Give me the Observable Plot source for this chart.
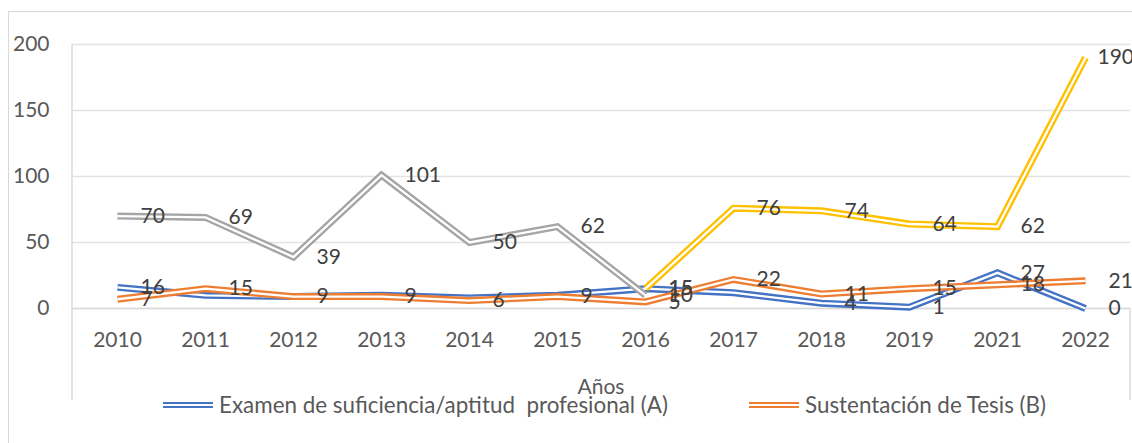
<!DOCTYPE html>
<html>
<head>
<meta charset="utf-8">
<script src="https://cdn.jsdelivr.net/npm/d3@7"></script>
<script src="https://cdn.jsdelivr.net/npm/@observablehq/plot@0.6"></script>
<style>
  html, body { margin: 0; padding: 0; background: #fff; }
  #wrap { position: relative; width: 1132px; height: 443px; overflow: hidden; font-family: Lato, "Open Sans", sans-serif; color: #595959; }
  #wrap svg { position: absolute; left: 0; top: 0; }
  .frame-top { position: absolute; left: 8px; top: 11px; width: 1200px; height: 0; border-top: 1.5px solid #d9d9d9; }
  .frame-left { position: absolute; left: 8px; top: 11px; width: 0; height: 500px; border-left: 1.5px solid #d9d9d9; }
  .axis-title { position: absolute; top: 373px; left: 601px; transform: translateX(-50%); font-size: 21px; white-space: pre; }
  .legend-item { position: absolute; top: 391px; display: flex; align-items: center; font-size: 22.4px; line-height: 28px; white-space: pre; }
  .sw { width: 50px; height: 2px; border-top: 2.5px solid; border-bottom: 2.5px solid; margin-right: 6px; }
</style>
</head>
<body>
<div id="wrap">
  <div class="frame-top"></div>
  <div class="frame-left"></div>
</div>
<script>
// ---- data ----
const years = ["2010", "2011", "2012", "2013", "2014", "2015", "2016", "2017", "2018", "2019", "2021", "2022"];
const examenA = [16, 10, 9, 10, 8, 10, 15, 12, 4, 1, 27, 0];
const etiquetasA = [16, null, null, null, null, null, 15, null, 4, 1, 27, 0];
const tesisB = [7, 15, 9, 9, 6, 9, 5, 22, 11, 15, 18, 21];
const etiquetasB = [7, 15, 9, 9, 6, 9, 5, 22, 11, 15, 18, 21];
const serieGris = [70, 69, 39, 101, 50, 62, 10, null, null, null, null, null];
const serieAmarilla = [null, null, null, null, null, null, 15, 76, 74, 64, 62, 190];
const yTicks = [0, 50, 100, 150, 200];
const legendNames = ["Examen de suficiencia/aptitud  profesional (A)", "Sustentación de Tesis (B)"];
const axisTitle = "Años";

const colors = { A: "#4472C4", B: "#ED7D31", gris: "#A5A5A5", amarilla: "#FFC000" };
const FONT = "Lato, 'Open Sans', sans-serif";

const toRows = (vals, labels) => years.map((year, i) => ({ year, value: vals[i], label: labels ? labels[i] : vals[i] }));
const rowsA = toRows(examenA, etiquetasA);
const rowsB = toRows(tesisB, etiquetasB);
const rowsG = toRows(serieGris);
const rowsY = toRows(serieAmarilla);

function doubleLine(rows, color) {
  return [
    Plot.line(rows, { x: "year", y: "value", stroke: color, strokeWidth: 7, strokeLinejoin: "miter", strokeMiterlimit: 10, strokeLinecap: "butt" }),
    Plot.line(rows, { x: "year", y: "value", stroke: "#fff", strokeWidth: 2.3, strokeLinejoin: "miter", strokeMiterlimit: 10, strokeLinecap: "butt" })
  ];
}
function labels(rows, dx) {
  return Plot.text(rows.filter(d => d.label != null && d.value != null), {
    x: "year", y: "value", text: d => String(d.label), dx, textAnchor: "start",
    fill: "#404040", fontSize: 21, fontFamily: FONT
  });
}

const lastY = rowsY.filter(d => d.value != null);
const chart = Plot.plot({
  width: 1132,
  height: 443,
  marginLeft: 72,
  marginRight: 2,
  marginTop: 44,
  marginBottom: 135,
  style: { fontFamily: FONT, fontSize: "21px", color: "#595959", background: "transparent", overflow: "visible" },
  x: { type: "point", domain: years, padding: 0.5, align: 0.5 },
  y: { domain: [0, 200] },
  marks: [
    Plot.gridY(yTicks, { stroke: "#e3e3e3", strokeOpacity: 1, strokeWidth: 1.4 }),
    Plot.ruleY([0], { stroke: "#d9d9d9", strokeWidth: 1.4 }),
    Plot.axisY(yTicks, { tickSize: 0, tickPadding: 23, label: null, fontSize: 21 }),
    Plot.axisX({ tickSize: 0, tickPadding: 24, label: null, fontSize: 21 }),
    ...doubleLine(rowsA, colors.A),
    ...doubleLine(rowsB, colors.B),
    ...doubleLine(rowsG, colors.gris),
    ...doubleLine(rowsY, colors.amarilla),
    labels(rowsA, 23),
    labels(rowsB, 23),
    labels(rowsG, 23),
    labels(lastY.slice(0, -1), 23),
    labels(lastY.slice(-1), 12)
  ]
});

const wrap = document.getElementById("wrap");
wrap.appendChild(chart);

// chart-area box lines (left edge of plot and category-axis area)
const sx = chart.scale("x"), sy = chart.scale("y");
const [xl, xr] = sx.range;
const yBase = sy.apply(0), yTop = sy.apply(200);
const svg = d3.select(chart);
svg.append("line").attr("x1", xl).attr("x2", xl).attr("y1", yTop).attr("y2", 400).attr("stroke", "#d9d9d9").attr("stroke-width", 1.4);
svg.append("line").attr("x1", xr).attr("x2", xr).attr("y1", yBase).attr("y2", 400).attr("stroke", "#d9d9d9").attr("stroke-width", 1.4);

// axis title
const t = document.createElement("div");
t.className = "axis-title";
t.textContent = axisTitle;
wrap.appendChild(t);

// legend
const legendColors = [colors.A, colors.B];
const legendLeft = [163, 749];
legendNames.forEach((name, i) => {
  const item = document.createElement("div");
  item.className = "legend-item";
  item.style.left = legendLeft[i] + "px";
  const sw = document.createElement("div");
  sw.className = "sw";
  sw.style.borderColor = legendColors[i];
  const tx = document.createElement("span");
  tx.textContent = name;
  item.appendChild(sw);
  item.appendChild(tx);
  wrap.appendChild(item);
});
</script>
</body>
</html>
